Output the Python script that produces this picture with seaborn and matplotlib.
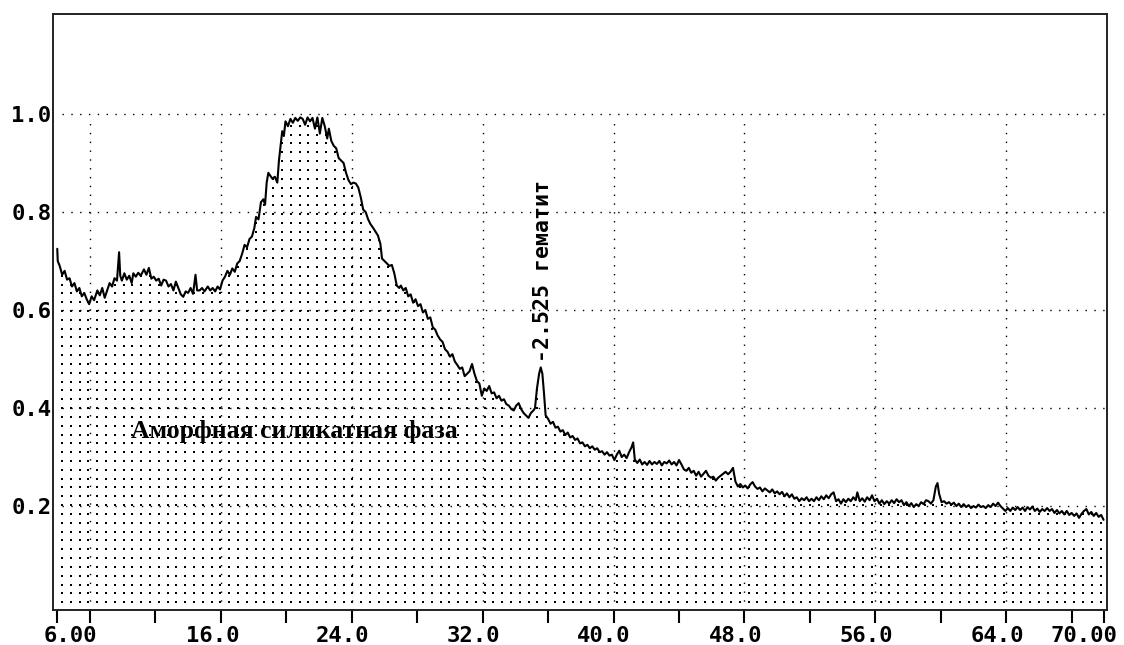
import numpy as np
import pandas as pd
import matplotlib
matplotlib.use("Agg")
import matplotlib.pyplot as plt
import seaborn as sns
from matplotlib.transforms import ScaledTranslation

# Diffraction pattern: 2θ (degrees) and normalised intensity, split by region
low_angle = [
    (6.00, 0.725), (6.03, 0.700), (6.15, 0.690), (6.30, 0.672), (6.45, 0.680),
    (6.60, 0.662), (6.75, 0.665), (6.90, 0.648), (7.05, 0.655), (7.20, 0.638),
    (7.35, 0.645), (7.50, 0.628), (7.65, 0.635), (7.80, 0.622), (7.95, 0.612),
    (8.10, 0.628), (8.25, 0.620), (8.45, 0.640), (8.60, 0.630), (8.75, 0.645),
    (8.90, 0.625), (9.05, 0.640), (9.20, 0.655), (9.35, 0.648), (9.50, 0.665),
    (9.65, 0.660), (9.78, 0.718), (9.85, 0.670), (9.95, 0.660), (10.10, 0.675),
    (10.25, 0.662), (10.40, 0.670), (10.55, 0.655), (10.65, 0.675), (10.80, 0.668),
    (10.95, 0.676), (11.10, 0.670), (11.30, 0.683), (11.45, 0.672), (11.60, 0.686),
    (11.75, 0.664), (11.90, 0.668), (12.05, 0.660), (12.20, 0.664), (12.35, 0.650),
    (12.50, 0.662), (12.65, 0.660), (12.80, 0.648), (12.95, 0.653), (13.10, 0.640),
    (13.25, 0.658), (13.40, 0.645), (13.55, 0.632), (13.70, 0.627), (13.85, 0.638),
    (14.00, 0.635), (14.15, 0.645), (14.30, 0.633), (14.45, 0.672), (14.55, 0.640),
    (14.70, 0.640), (14.85, 0.645), (15.00, 0.638), (15.20, 0.648), (15.35, 0.640),
    (15.50, 0.645), (15.65, 0.638), (15.80, 0.648), (15.95, 0.642), (16.10, 0.660),
    (16.25, 0.668), (16.40, 0.680),
]

halo = [
    (16.55, 0.672), (16.70, 0.685), (16.85, 0.678), (17.00, 0.695), (17.15, 0.700),
    (17.30, 0.715), (17.45, 0.733), (17.60, 0.728), (17.75, 0.745), (17.90, 0.750),
    (18.05, 0.768), (18.15, 0.790), (18.30, 0.785), (18.45, 0.820), (18.60, 0.826),
    (18.70, 0.815), (18.80, 0.860), (18.90, 0.880), (19.00, 0.875), (19.15, 0.868),
    (19.30, 0.872), (19.45, 0.860), (19.55, 0.905), (19.65, 0.935), (19.75, 0.965),
    (19.85, 0.955), (19.95, 0.985), (20.10, 0.975), (20.25, 0.990), (20.40, 0.982),
    (20.55, 0.992), (20.70, 0.986), (20.85, 0.993), (21.00, 0.990), (21.15, 0.978),
    (21.30, 0.993), (21.45, 0.985), (21.60, 0.992), (21.75, 0.970), (21.90, 0.993),
    (22.05, 0.960), (22.20, 0.992), (22.35, 0.975), (22.50, 0.950), (22.60, 0.970),
    (22.75, 0.945), (22.90, 0.935), (23.05, 0.930), (23.20, 0.910), (23.35, 0.905),
    (23.50, 0.900), (23.65, 0.880), (23.80, 0.865), (23.95, 0.857), (24.10, 0.860),
    (24.25, 0.858), (24.40, 0.850), (24.55, 0.830), (24.70, 0.805), (24.85, 0.800),
    (25.00, 0.785), (25.15, 0.775), (25.30, 0.768), (25.45, 0.760), (25.60, 0.752),
    (25.75, 0.735), (25.85, 0.705), (26.00, 0.700), (26.15, 0.695), (26.30, 0.690),
    (26.45, 0.692), (26.60, 0.675), (26.75, 0.650), (26.90, 0.645),
]

mid_angle = [
    (27.00, 0.650), (27.15, 0.640), (27.30, 0.645), (27.45, 0.628), (27.60, 0.632),
    (27.75, 0.615), (27.90, 0.622), (28.05, 0.608), (28.20, 0.612), (28.35, 0.595),
    (28.50, 0.600), (28.65, 0.582), (28.80, 0.585), (28.95, 0.565), (29.10, 0.560),
    (29.25, 0.548), (29.40, 0.540), (29.55, 0.535), (29.70, 0.520), (29.85, 0.515),
    (30.00, 0.505), (30.15, 0.510), (30.30, 0.495), (30.45, 0.488), (30.60, 0.480),
    (30.75, 0.483), (30.90, 0.465), (31.05, 0.470), (31.20, 0.475), (31.35, 0.490),
    (31.50, 0.470), (31.65, 0.455), (31.80, 0.450), (31.95, 0.425), (32.10, 0.440),
    (32.25, 0.435), (32.40, 0.445), (32.55, 0.430), (32.70, 0.432), (32.85, 0.420),
    (33.00, 0.425), (33.15, 0.415), (33.30, 0.418), (33.45, 0.408), (33.60, 0.405),
    (33.75, 0.398), (33.90, 0.395), (34.05, 0.405), (34.20, 0.410), (34.35, 0.398),
    (34.50, 0.390), (34.65, 0.385), (34.80, 0.380), (34.95, 0.390), (35.10, 0.395),
    (35.20, 0.400), (35.32, 0.440), (35.45, 0.470), (35.55, 0.483), (35.65, 0.470),
    (35.75, 0.430), (35.85, 0.385), (36.00, 0.378), (36.15, 0.368), (36.30, 0.372),
    (36.45, 0.360), (36.60, 0.362), (36.75, 0.352), (36.90, 0.355), (37.05, 0.345),
    (37.20, 0.350), (37.35, 0.340), (37.50, 0.343), (37.65, 0.335), (37.80, 0.338),
    (37.95, 0.328), (38.10, 0.330), (38.25, 0.322), (38.40, 0.325), (38.55, 0.318),
    (38.70, 0.322), (38.85, 0.315), (39.00, 0.318), (39.15, 0.310), (39.30, 0.312),
    (39.45, 0.305), (39.60, 0.310), (39.75, 0.303), (39.90, 0.305), (40.05, 0.294),
    (40.20, 0.305), (40.35, 0.313), (40.50, 0.300), (40.65, 0.305), (40.80, 0.298),
    (40.95, 0.310), (41.10, 0.320), (41.20, 0.330), (41.30, 0.295), (41.45, 0.288),
    (41.60, 0.295), (41.75, 0.285), (41.90, 0.290), (42.05, 0.284), (42.20, 0.292),
    (42.35, 0.285), (42.50, 0.290), (42.65, 0.286), (42.80, 0.292), (42.95, 0.283),
    (43.10, 0.290), (43.25, 0.287), (43.40, 0.293), (43.55, 0.285), (43.70, 0.290),
    (43.85, 0.283), (44.00, 0.294), (44.15, 0.285), (44.30, 0.275), (44.45, 0.272),
    (44.60, 0.278), (44.75, 0.268), (44.90, 0.272), (45.05, 0.262), (45.20, 0.270),
    (45.35, 0.260), (45.50, 0.266), (45.65, 0.272), (45.80, 0.262), (45.95, 0.258),
    (46.10, 0.260), (46.25, 0.252), (46.40, 0.258), (46.55, 0.262), (46.70, 0.266),
    (46.85, 0.270), (47.00, 0.265), (47.15, 0.270), (47.30, 0.278), (47.45, 0.250),
    (47.60, 0.240), (47.75, 0.245), (47.90, 0.238),
]

high_angle = [
    (48.05, 0.242), (48.20, 0.236), (48.35, 0.244), (48.50, 0.249), (48.65, 0.240),
    (48.80, 0.235), (48.95, 0.238), (49.10, 0.230), (49.25, 0.236), (49.40, 0.232),
    (49.55, 0.228), (49.70, 0.234), (49.85, 0.226), (50.00, 0.230), (50.15, 0.224),
    (50.30, 0.229), (50.45, 0.220), (50.60, 0.226), (50.75, 0.218), (50.90, 0.224),
    (51.05, 0.215), (51.20, 0.218), (51.35, 0.210), (51.50, 0.216), (51.65, 0.212),
    (51.80, 0.218), (51.95, 0.210), (52.10, 0.215), (52.25, 0.210), (52.40, 0.218),
    (52.55, 0.212), (52.70, 0.220), (52.85, 0.214), (53.00, 0.222), (53.15, 0.216),
    (53.30, 0.224), (53.45, 0.228), (53.60, 0.210), (53.75, 0.214), (53.90, 0.205),
    (54.05, 0.214), (54.20, 0.208), (54.35, 0.215), (54.50, 0.210), (54.65, 0.218),
    (54.80, 0.212), (54.90, 0.228), (55.05, 0.210), (55.20, 0.216), (55.35, 0.209),
    (55.50, 0.218), (55.65, 0.212), (55.80, 0.222), (55.95, 0.210), (56.10, 0.215),
    (56.25, 0.205), (56.40, 0.212), (56.55, 0.204), (56.70, 0.210), (56.85, 0.205),
    (57.00, 0.212), (57.15, 0.206), (57.30, 0.214), (57.45, 0.208), (57.60, 0.212),
    (57.75, 0.202), (57.90, 0.208), (58.05, 0.200), (58.20, 0.206), (58.35, 0.198),
    (58.50, 0.204), (58.65, 0.200), (58.80, 0.208), (58.95, 0.204), (59.10, 0.212),
    (59.25, 0.210), (59.40, 0.205), (59.55, 0.212), (59.70, 0.240), (59.80, 0.247),
    (59.90, 0.225), (60.05, 0.208), (60.20, 0.210), (60.35, 0.205), (60.50, 0.208),
    (60.65, 0.203), (60.80, 0.207), (60.95, 0.200), (61.10, 0.205), (61.25, 0.198),
    (61.40, 0.204), (61.55, 0.198), (61.70, 0.202), (61.85, 0.196), (62.00, 0.200),
    (62.15, 0.197), (62.30, 0.203), (62.45, 0.198), (62.60, 0.200), (62.75, 0.196),
    (62.90, 0.202), (63.05, 0.198), (63.20, 0.205), (63.35, 0.200), (63.50, 0.207),
    (63.65, 0.200), (63.80, 0.195), (63.95, 0.190), (64.10, 0.196), (64.25, 0.190),
    (64.40, 0.197), (64.55, 0.192), (64.70, 0.198), (64.85, 0.192), (65.00, 0.197),
    (65.15, 0.190), (65.30, 0.198), (65.45, 0.193), (65.60, 0.199), (65.75, 0.190),
    (65.90, 0.195), (66.05, 0.188), (66.20, 0.194), (66.35, 0.190), (66.50, 0.196),
    (66.65, 0.190), (66.80, 0.194), (66.95, 0.186), (67.10, 0.192), (67.25, 0.185),
    (67.40, 0.190), (67.55, 0.183), (67.70, 0.190), (67.85, 0.182), (68.00, 0.186),
    (68.15, 0.180), (68.30, 0.185), (68.45, 0.176), (68.60, 0.184), (68.75, 0.190),
    (68.90, 0.194), (69.05, 0.183), (69.20, 0.188), (69.35, 0.180), (69.50, 0.186),
    (69.65, 0.178), (69.80, 0.182), (69.95, 0.172),
]

# Axis scale and labels
x_range = (5.74, 70.16)
y_range = (-0.012, 1.204)
x_label_pos = [6, 16, 24, 32, 40, 48, 56, 64, 70]
x_label_txt = ["6.00", "16.0", "24.0", "32.0", "40.0", "48.0", "56.0", "64.0", "70.00"]
x_label_shift_px = [13, -8, -9, -9, -10, -9, -9, -9, -20]
x_minor_pos = [8, 12, 20, 28, 36, 44, 52, 60, 68]
x_grid = [8, 16, 24, 32, 40, 48, 56, 64]
y_ticks = [0.2, 0.4, 0.6, 0.8, 1.0]
y_tick_txt = ["0.2", "0.4", "0.6", "0.8", "1.0"]

peak_pos, peak_top = 35.69, 0.494
peak_text = "-2.525 гематит"
phase_text = "Аморфная силикатная фаза"
phase_pos = (10.5, 0.352)

df = pd.DataFrame(low_angle + halo + mid_angle + high_angle,
                  columns=["two_theta", "intensity"])

sns.set_theme(style="white")
plt.rcParams["lines.scale_dashes"] = False
plt.rcParams["font.family"] = ["DejaVu Sans Mono", "DejaVu Sans"]

fig = plt.figure(figsize=(11.24, 6.45), dpi=100)
ax = fig.add_axes([53 / 1124, 1 - 610 / 645, (1107 - 53) / 1124, (610 - 14) / 645])
ax.set_xlim(*x_range)
ax.set_ylim(*y_range)

dots = (0, (1.0, 5.35))

# dotted grid: vertical lines stop at the 1.0 level
ax.vlines(x_grid, y_range[0], 1.0 - 0.012, colors="black", linewidth=1.0,
          linestyles=[dots], zorder=1)
ax.hlines(y_ticks, x_range[0] + 0.55, x_range[1], colors="black", linewidth=1.0,
          linestyles=[dots], zorder=1)

# stippled area under the curve
area = ax.fill_between(df["two_theta"], y_range[0], df["intensity"],
                       facecolor="none", edgecolor="none")
gx = np.arange(x_range[0] + 0.55, x_range[1], 0.538)
gy = np.arange(y_range[0] + 0.016, 1.0, 0.018)
mx, my = np.meshgrid(gx, gy)
stipple = ax.scatter(mx.ravel(), my.ravel(), s=0.9, marker="s", color="black",
                     linewidths=0, zorder=2)
stipple.set_clip_path(area.get_paths()[0], ax.transData)

sns.lineplot(data=df, x="two_theta", y="intensity", color="black", linewidth=1.5,
             estimator=None, sort=False, ax=ax, zorder=3)

# ticks and labels
ax.set_xticks(x_label_pos)
ax.set_xticklabels(x_label_txt)
ax.set_xticks(x_minor_pos, minor=True)
ax.tick_params(axis="x", which="both", direction="out", length=9.4, width=1.5,
               color="black", bottom=True, pad=2.0, labelsize=16, labelcolor="black")
for lab in ax.get_xticklabels():
    lab.set_fontweight("bold")
for lab, dx in zip(ax.get_xticklabels(), x_label_shift_px):
    lab.set_transform(lab.get_transform() + ScaledTranslation(dx / 100, 0, fig.dpi_scale_trans))

ax.set_yticks(y_ticks)
ax.set_yticklabels(y_tick_txt)
ax.tick_params(axis="y", which="both", left=True, length=0, pad=1,
               labelsize=16, labelcolor="black")
for lab in ax.get_yticklabels():
    lab.set_fontweight("bold")

ax.set_xlabel("")
ax.set_ylabel("")
for side in ["left", "right", "top", "bottom"]:
    ax.spines[side].set_visible(True)
    ax.spines[side].set_color("#222222")
    ax.spines[side].set_linewidth(1.4)

ax.text(phase_pos[0], phase_pos[1], phase_text, family="Liberation Serif",
        fontweight="bold", fontsize=18.5, ha="left", va="center", color="black", zorder=4)
ax.text(peak_pos, peak_top, peak_text, family="DejaVu Sans Mono", fontsize=15.5,
        fontweight="bold", rotation=90, ha="center", va="bottom", color="black", zorder=4)

fig.savefig("out.png", dpi=100, facecolor="white")
